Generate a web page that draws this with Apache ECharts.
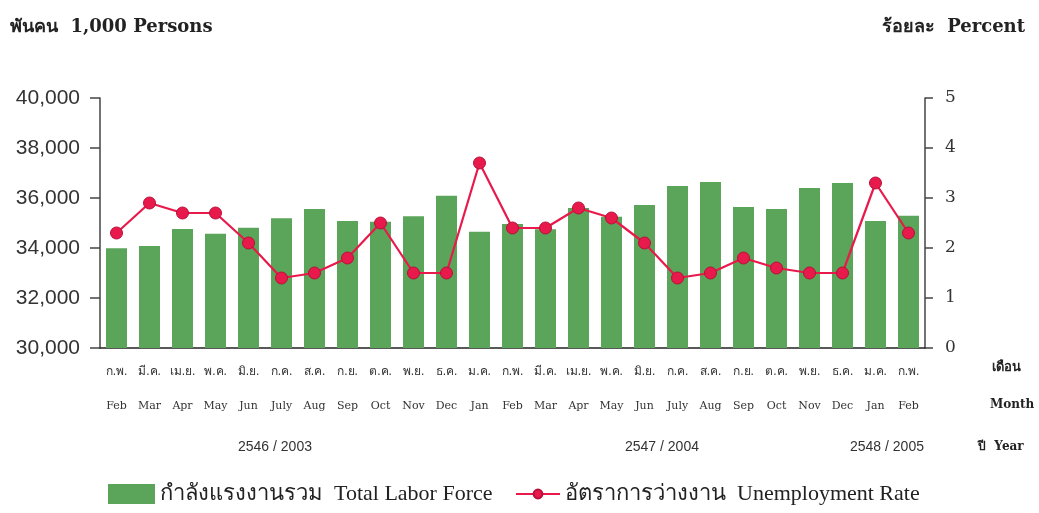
<!DOCTYPE html>
<html>
<head>
<meta charset="utf-8">
<script src="https://cdn.jsdelivr.net/npm/echarts@6/dist/echarts.min.js"></script>
<style>
  html, body { margin: 0; padding: 0; background: #fff; }
  #chart { width: 1039px; height: 513px; }
</style>
</head>
<body>
<div id="chart"></div>
<script>
// เดือน / months, Feb 2003 - Feb 2005
var thaiMonths = ["ก.พ.", "มี.ค.", "เม.ย.", "พ.ค.", "มิ.ย.", "ก.ค.", "ส.ค.", "ก.ย.", "ต.ค.", "พ.ย.", "ธ.ค.", "ม.ค.",
  "ก.พ.", "มี.ค.", "เม.ย.", "พ.ค.", "มิ.ย.", "ก.ค.", "ส.ค.", "ก.ย.", "ต.ค.", "พ.ย.", "ธ.ค.", "ม.ค.", "ก.พ."];
var engMonths = ["Feb", "Mar", "Apr", "May", "Jun", "July", "Aug", "Sep", "Oct", "Nov", "Dec", "Jan",
  "Feb", "Mar", "Apr", "May", "Jun", "July", "Aug", "Sep", "Oct", "Nov", "Dec", "Jan", "Feb"];
// 1,000 persons
var laborForce = [33990, 34080, 34760, 34570, 34810, 35190, 35560, 35080, 35050, 35270, 36090, 34650,
  34960, 34750, 35600, 35250, 35720, 36480, 36640, 35640, 35560, 36400, 36600, 35080, 35290];
// percent
var unemployment = [2.3, 2.9, 2.7, 2.7, 2.1, 1.4, 1.5, 1.8, 2.5, 1.5, 1.5, 3.7,
  2.4, 2.4, 2.8, 2.6, 2.1, 1.4, 1.5, 1.8, 1.6, 1.5, 1.5, 3.3, 2.3];
var yearLabels = ["2546 / 2003", "2547 / 2004", "2548 / 2005"];
var leftTicks = [30000, 40000, 2000];
var rightTicks = [0, 5, 1];

var serif = "'DejaVu Serif', 'Liberation Serif', serif";
var sans = "'Liberation Sans', Arial, sans-serif";
var narrow = "'Liberation Sans Narrow', 'Liberation Sans', sans-serif";
var barName = "กำลังแรงงานรวม  Total Labor Force";
var lineName = "อัตราการว่างงาน  Unemployment Rate";
var legendText = { fontFamily: "'Liberation Serif', serif", fontSize: 22, color: "#222" };

var myChart = echarts.init(document.getElementById("chart"));
var option = {
  animation: false,
  backgroundColor: "#fff",
  grid: { left: 100, right: 114, top: 98, bottom: 165 },
  legend: [
    {
      bottom: 3, left: 103,
      itemWidth: 47, itemHeight: 20,
      textStyle: legendText,
      data: [{ name: barName, icon: "rect" }]
    },
    {
      bottom: 3, left: 510,
      itemWidth: 44, itemHeight: 11,
      textStyle: legendText,
      data: [{ name: lineName }]
    }
  ],
  xAxis: {
    type: "category",
    data: engMonths,
    axisLine: { lineStyle: { color: "#222", width: 1.5 } },
    axisTick: { show: false },
    axisLabel: {
      interval: 0,
      margin: 6,
      formatter: function (v, i) {
        return "{th|" + thaiMonths[i] + "}\n{en|" + v + "}";
      },
      rich: {
        th: { fontFamily: sans, fontSize: 12, color: "#333", lineHeight: 35 },
        en: { fontFamily: serif, fontSize: 11, color: "#333", lineHeight: 35 }
      }
    }
  },
  yAxis: [
    {
      type: "value",
      min: leftTicks[0],
      max: leftTicks[1],
      interval: leftTicks[2],
      axisLine: { show: true, lineStyle: { color: "#444", width: 1.5 } },
      axisTick: { show: true, length: 10, lineStyle: { color: "#444", width: 1.5 } },
      splitLine: { show: false },
      axisLabel: {
        margin: 20,
        fontFamily: narrow,
        fontSize: 21,
        color: "#333",
        formatter: function (v) { return v.toLocaleString("en-US"); }
      }
    },
    {
      type: "value",
      min: rightTicks[0],
      max: rightTicks[1],
      interval: rightTicks[2],
      axisLine: { show: true, lineStyle: { color: "#444", width: 1.5 } },
      axisTick: { show: true, length: 8, lineStyle: { color: "#444", width: 1.5 } },
      splitLine: { show: false },
      axisLabel: { margin: 20, fontFamily: serif, fontSize: 17, color: "#333" }
    }
  ],
  graphic: [
    { type: "text", left: 10, top: 18, style: { text: "พันคน  1,000 Persons", font: "bold 18px " + serif, fill: "#222" } },
    { type: "text", right: 14, top: 18, style: { text: "ร้อยละ  Percent", font: "bold 18px " + serif, fill: "#222" } },
    { type: "text", left: 992, top: 361, style: { text: "เดือน", font: "bold 13px " + sans, fill: "#222" } },
    { type: "text", left: 990, top: 399, style: { text: "Month", font: "bold 12px " + serif, fill: "#222" } },
    { type: "text", left: 978, top: 441, style: { text: "ปี  Year", font: "bold 12px " + serif, fill: "#222" } },
    { type: "text", left: 238, top: 440, style: { text: yearLabels[0], font: "14px " + narrow, fill: "#333" } },
    { type: "text", left: 625, top: 440, style: { text: yearLabels[1], font: "14px " + narrow, fill: "#333" } },
    { type: "text", left: 850, top: 440, style: { text: yearLabels[2], font: "14px " + narrow, fill: "#333" } }
  ],
  series: [
    {
      name: barName,
      type: "bar",
      yAxisIndex: 0,
      barWidth: 21,
      itemStyle: { color: "#5aa559" },
      data: laborForce
    },
    {
      name: lineName,
      type: "line",
      yAxisIndex: 1,
      symbol: "circle",
      symbolSize: 12,
      lineStyle: { color: "#e8194b", width: 2.2 },
      itemStyle: { color: "#e8194b", borderColor: "#b8103a", borderWidth: 1 },
      data: unemployment
    }
  ]
};
myChart.setOption(option);
</script>
</body>
</html>
